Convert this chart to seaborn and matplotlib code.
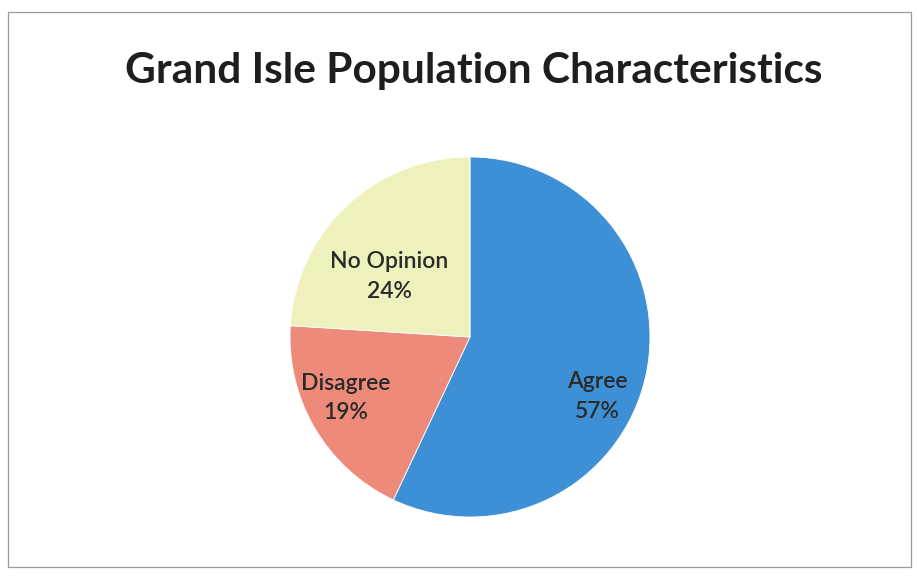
import matplotlib
matplotlib.use("Agg")
import matplotlib.pyplot as plt
import seaborn as sns
import numpy as np

categories = ["Agree", "Disagree", "No Opinion"]
values = [57, 19, 24]
colors = ["#3d8fd6", "#ee8a7a", "#eef1bb"]
title = "Grand Isle Population Characteristics"

sns.set_theme(style="white")
plt.rcParams['font.family'] = ['Lato', 'DejaVu Sans']

fig = plt.figure(figsize=(9.17, 5.76), dpi=100)
fig.patch.set_facecolor("white")

# outer frame
frame = plt.Rectangle((0.009, 0.015), 0.985, 0.965, transform=fig.transFigure,
                      fill=False, edgecolor="#9a9a9a", linewidth=0.9)
fig.add_artist(frame)

cx, cy, r = 470, 576 - 337, 180
ax = fig.add_axes([(cx - r) / 917, (cy - r) / 576, 2 * r / 917, 2 * r / 576])
wedges, _ = ax.pie(values, colors=colors, startangle=90, counterclock=False,
                   radius=1.0, wedgeprops=dict(linewidth=0.6, edgecolor="white"))
ax.set_xlim(-1, 1)
ax.set_ylim(-1, 1)
ax.set_aspect("equal")
ax.axis("off")

# label positions (radius fraction, angle deg) in the pie
label_pos = [(0.78, -25), (0.77, -154), (0.56, 143)]
for cat, v, (rr, ang) in zip(categories, values, label_pos):
    x = rr * np.cos(np.radians(ang))
    y = rr * np.sin(np.radians(ang))
    ax.text(x, y, f"{cat}\n{v}%", ha="center", va="center", fontsize=16.5,
            color="#2a2a2a", linespacing=1.5, fontweight="semibold")

fig.text(0.517, 0.876, title, ha="center", va="center", fontsize=30.5,
         fontweight="bold", color="#1e1e1e")

fig.savefig("out.png", dpi=100, facecolor="white")
